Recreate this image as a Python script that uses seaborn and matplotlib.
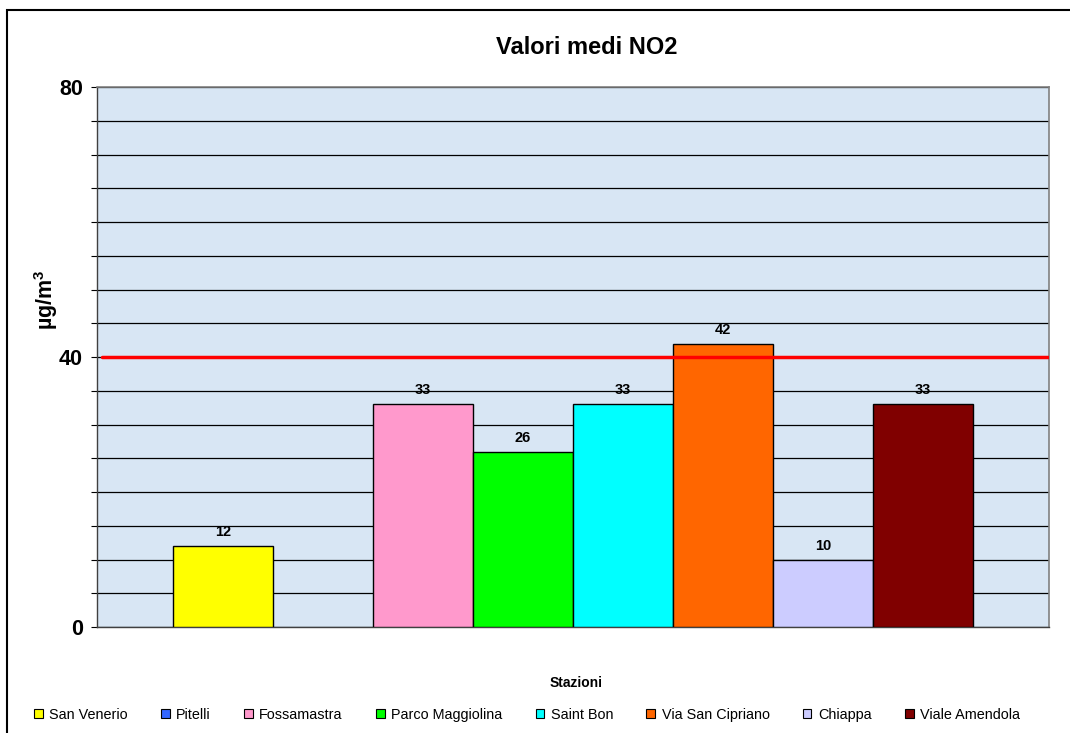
import pandas as pd
import numpy as np
import matplotlib
matplotlib.use('Agg')
import matplotlib.pyplot as plt
import matplotlib.patches as mpatches
import seaborn as sns

# Data
stations = ['San Venerio', 'Pitelli', 'Fossamastra', 'Parco Maggiolina',
            'Saint Bon', 'Via San Cipriano', 'Chiappa', 'Viale Amendola']
values = [12, np.nan, 33, 26, 33, 42, 10, 33]
colors = ['#FFFF00', '#3366FF', '#FF99CC', '#00FF00',
          '#00FFFF', '#FF6600', '#CCCCFF', '#800000']
limit = 40

data = pd.DataFrame({'group': [''] * len(stations), 'Stazione': stations, 'value': values})

sns.set_style('white')
plt.rcParams['font.family'] = ['Liberation Sans', 'DejaVu Sans']
plt.rcParams['text.color'] = 'black'
plt.rcParams['ytick.color'] = 'black'
plt.rcParams['axes.labelcolor'] = 'black'
plt.rcParams['mathtext.fontset'] = 'custom'
plt.rcParams['mathtext.rm'] = 'Liberation Sans:bold'
plt.rcParams['mathtext.bf'] = 'Liberation Sans:bold'

fig = plt.figure(figsize=(10.7, 7.33), dpi=100)
ax = fig.add_axes([97 / 1070, 1 - 627 / 733, (1049 - 97) / 1070, (627 - 87) / 733])

sns.barplot(data=data, x='group', y='value', hue='Stazione', hue_order=stations,
            palette=colors, width=0.84, edgecolor='black', linewidth=1.0,
            saturation=1, legend=False, ax=ax, zorder=3)

ax.set_facecolor('#D8E6F4')
ax.set_xlim(-0.5, 0.5)
ax.set_ylim(0, 80)
ax.set_yticks(range(0, 81, 5))
ax.set_yticklabels([str(v) if v % 40 == 0 else '' for v in range(0, 81, 5)],
                   fontsize=15.5, fontweight='bold')
ax.tick_params(axis='y', direction='out', length=4, width=0.8, color='black', pad=6, left=True)
ax.tick_params(axis='x', bottom=False, labelbottom=False)
ax.set_xlabel('')
ax.set_ylabel('')
ax.grid(axis='y', color='black', linewidth=0.9, zorder=1)
ax.set_axisbelow(True)
for side in ['top', 'right']:
    ax.spines[side].set_color('#808080')
    ax.spines[side].set_linewidth(1.2)
for side in ['left', 'bottom']:
    ax.spines[side].set_color('#404040')
    ax.spines[side].set_linewidth(1.0)

# limit line
ax.axhline(limit, xmin=0.005, xmax=1, color='#FF0000', linewidth=2.5, zorder=4)

# value labels
for bar_cont in ax.containers:
    for rect in bar_cont:
        h = rect.get_height()
        if np.isnan(h) or h == 0:
            continue
        ax.annotate(f'{h:.0f}', (rect.get_x() + rect.get_width() / 2, h),
                    xytext=(0, 10), textcoords='offset points', ha='center', va='center',
                    fontsize=10.5, fontweight='bold', zorder=5)

fig.text(587 / 1070, 1 - 47 / 733, 'Valori medi NO2', ha='center', va='center',
         fontsize=17, fontweight='bold')
fig.text(46 / 1070, 1 - 300 / 733, r'µg/m$^{3}$', ha='center', va='center', rotation=90,
         fontsize=15.5, fontweight='bold')
fig.text(576 / 1070, 1 - 683 / 733, 'Stazioni', ha='center', va='center',
         fontsize=10, fontweight='bold')

handles = [mpatches.Patch(facecolor=c, edgecolor='black', linewidth=0.8) for c in colors]
fig.legend(handles, stations, loc='center', ncol=len(stations),
           bbox_to_anchor=(527 / 1070, 1 - 715 / 733), frameon=False, fontsize=10.4,
           handlelength=0.6, handleheight=0.6, handletextpad=0.45, columnspacing=2.3)

# chart frame
frame = mpatches.Rectangle((7 / 1070, -0.1), 1.2, 1 - 10 / 733 + 0.1, transform=fig.transFigure,
                           fill=False, edgecolor='black', linewidth=1.5, clip_on=False)
fig.patches.append(frame)

fig.savefig('out.png', dpi=100)
plt.close()
